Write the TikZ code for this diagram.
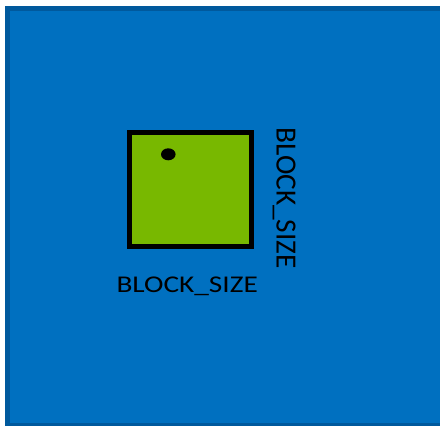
\documentclass[tikz,border=0pt]{standalone}
\usepackage{fontspec}
\setmainfont{Carlito}
\definecolor{bgblue}{HTML}{0070C0}
\definecolor{bgedge}{HTML}{00599D}
\definecolor{blockgreen}{HTML}{78B800}
\begin{document}
\begin{tikzpicture}[x=1pt,y=-1pt,
  lbl/.style={inner sep=0pt, outer sep=0pt, text=black, font=\fontsize{29.3}{31}\selectfont}]
\useasboundingbox (0,0) rectangle (440,426);
\fill[white] (0,0) rectangle (440,426);
\draw[line width=5, draw=bgedge, fill=bgblue] (7.5,8) rectangle (446,425.5);
\node[draw=black, line width=5, fill=blockgreen, minimum width=122, minimum height=114, inner sep=0pt, outer sep=0pt, anchor=north west] (blk) at (129.5,132.5) {};
\fill[black] (168.3,154.3) ellipse [x radius=7.3, y radius=6];
\node[lbl, anchor=base west] (hlbl) at (116.5,292.7) {\scalebox{1}[0.82]{BLOCK\_SIZE}};
\node[lbl, rotate=-90, anchor=base west] (vlbl) at (276.5,127.5) {BLOCK\_SIZE};
\end{tikzpicture}
\end{document}
